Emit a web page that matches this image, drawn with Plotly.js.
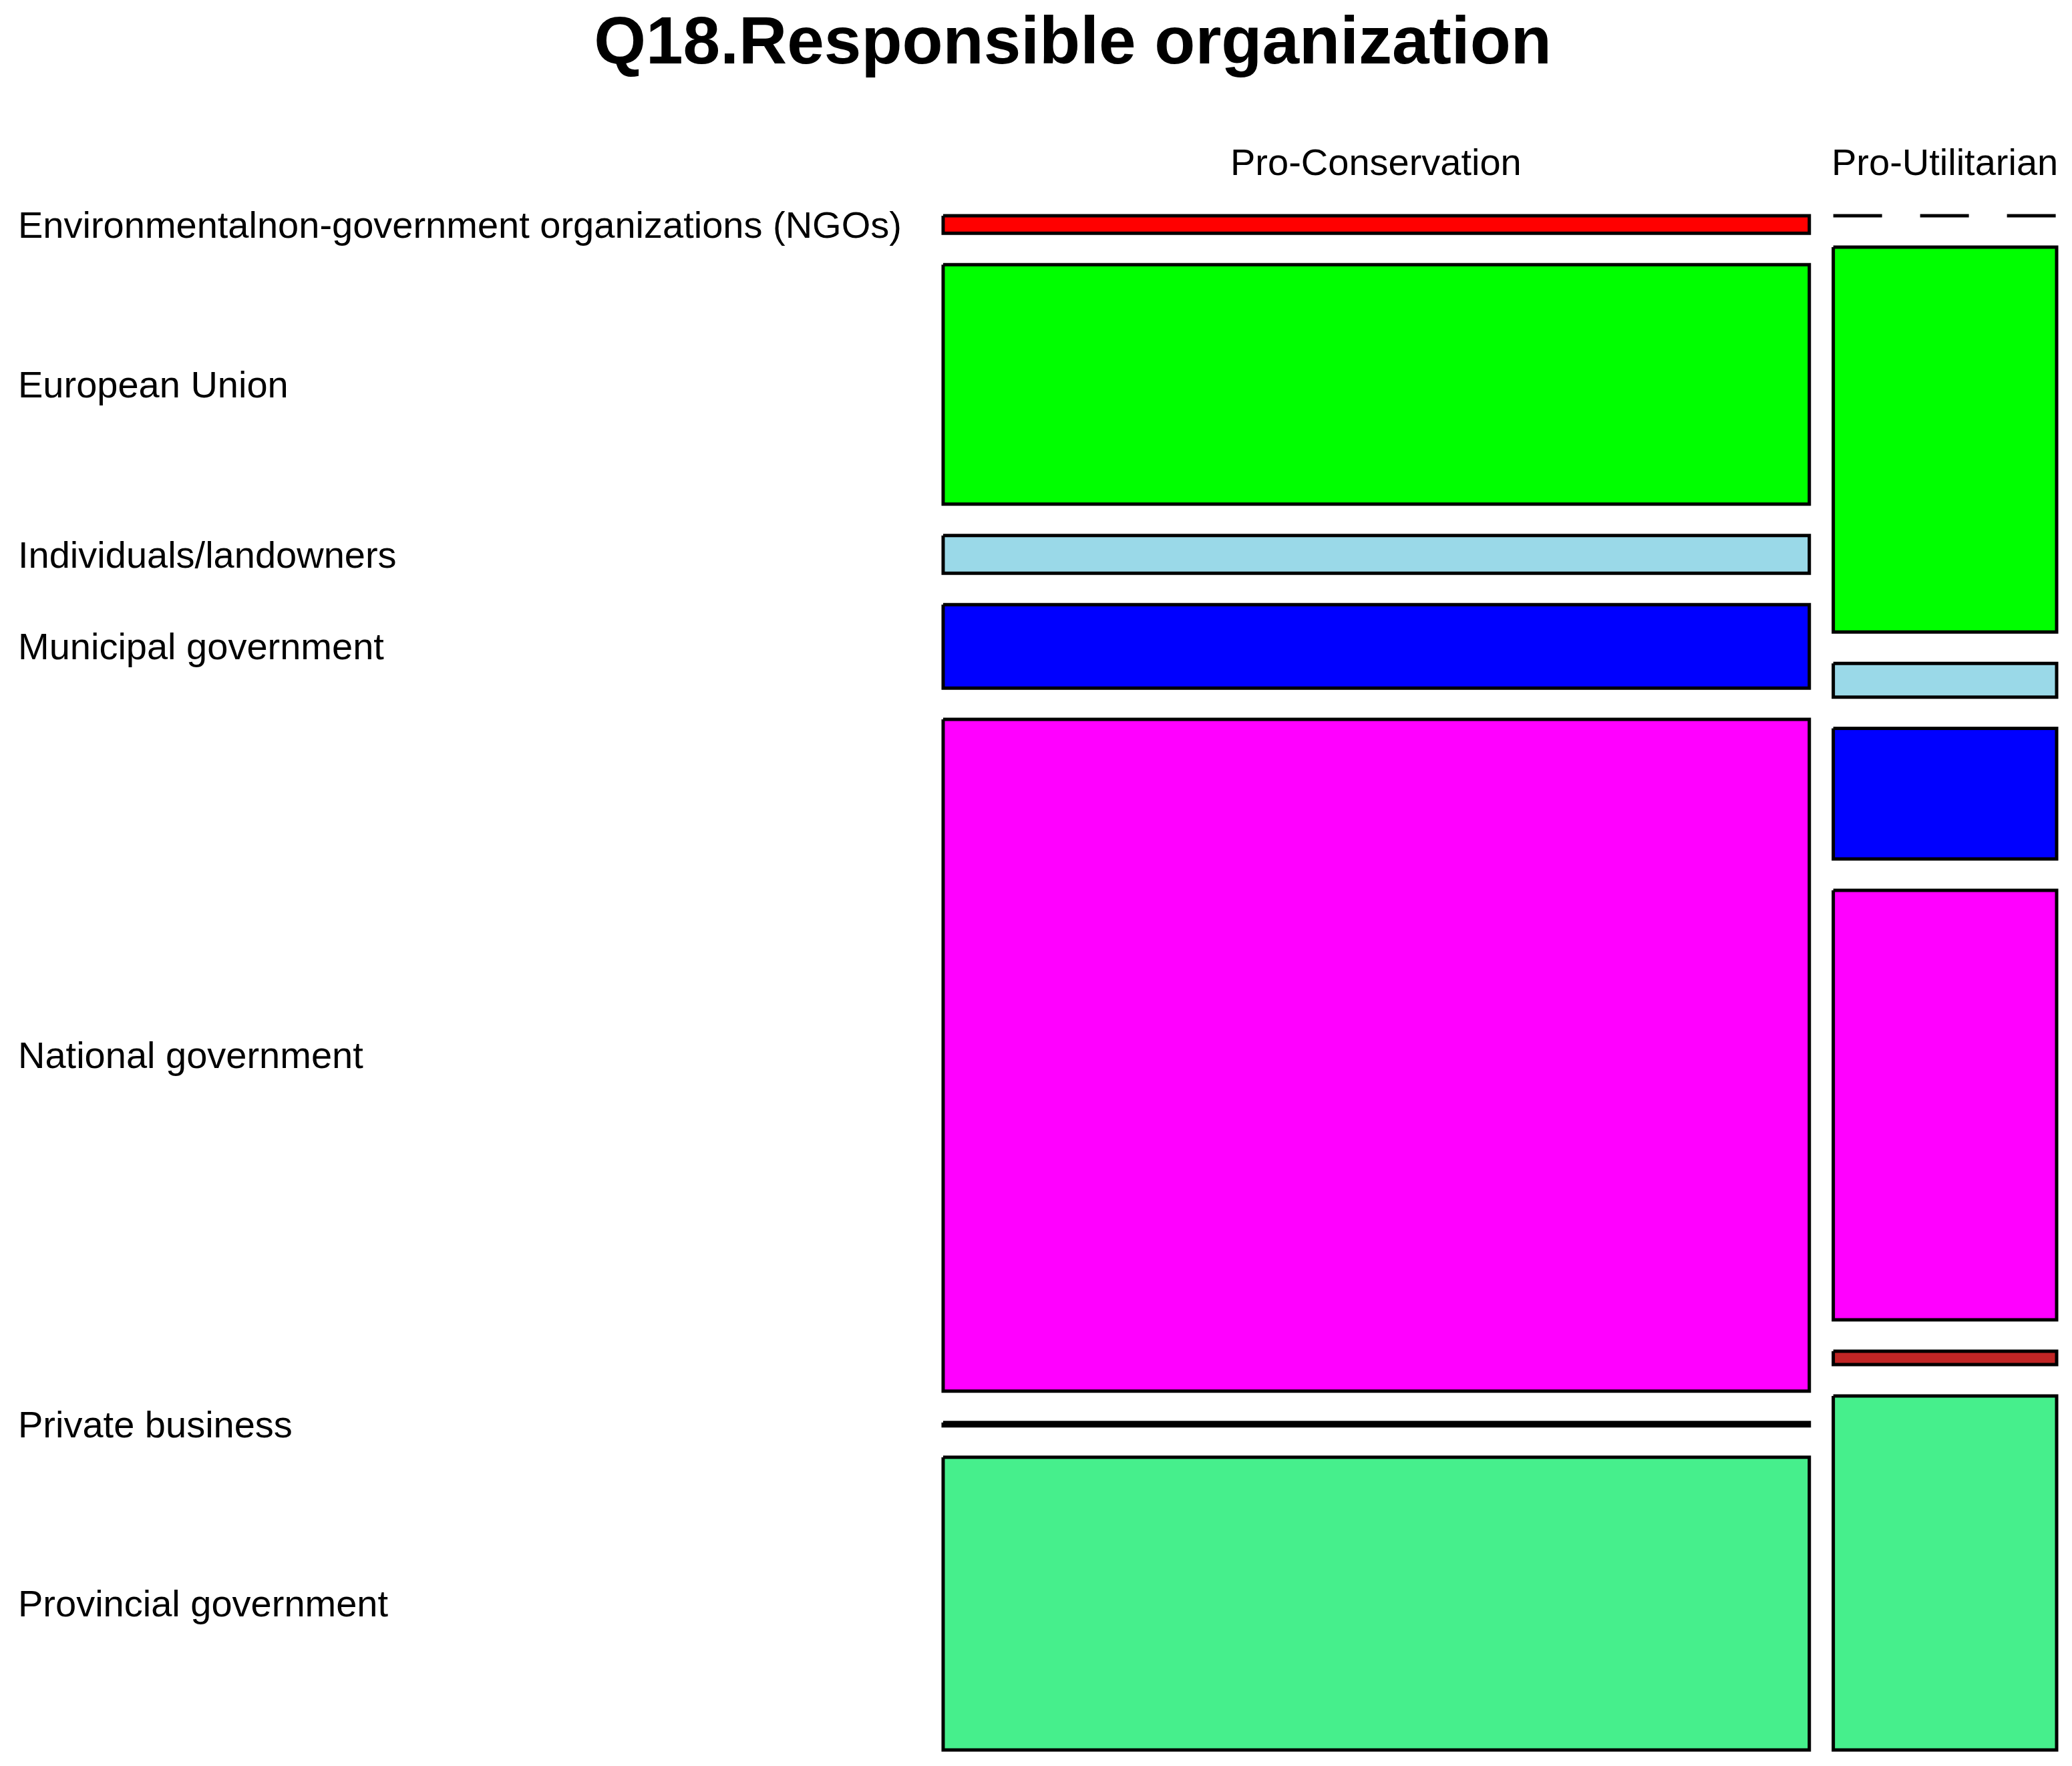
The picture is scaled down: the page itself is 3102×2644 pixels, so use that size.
<!DOCTYPE html>
<html>
<head>
<meta charset="utf-8">
<script src="https://cdn.plot.ly/plotly-3.0.1.min.js"></script>
<style>
  body { margin: 0; background: #fff; }
  #plot { width: 3102px; height: 2644px; }
</style>
</head>
<body>
<div id="plot"></div>
<script>
// mosaic data: column shares and % of each group per organization
var organizations = ['Environmentalnon-government organizations (NGOs)', 'European Union',
    'Individuals/landowners', 'Municipal government', 'National government',
    'Private business', 'Provincial government'];
var groups = ['Pro-Conservation', 'Pro-Utilitarian'];
var groupShare = [79.5, 20.5];
var proConservation = [1.3, 17.8, 2.8, 6.2, 49.9, 0.25, 21.75];
var proUtilitarian = [0, 28.6, 2.5, 9.7, 31.9, 1.0, 26.3];
var cellColors = ['#ff0000', '#00ff00', '#9ad9e8', '#0000ff', '#ff00ff', '#c02525', '#46ef8c'];

var columns = [proConservation, proUtilitarian];
var font = 'Liberation Sans, Arial, sans-serif';

// spacing between tiles, in data units
var colGap = 2.2;
var rowGap = 2.33;
var xTotal = 100 + colGap * (groups.length - 1);
var yTotal = 100 + rowGap * (organizations.length - 1);

// page geometry
var W = 3102, H = 2644;
var margin = {l: 1399.5, r: 10.5, t: 310.5, b: 11.5};
var pad = 12;
var plotW = W - margin.l - margin.r;
var plotH = H - margin.t - margin.b;
var pxX = (plotW - 2 * pad) / xTotal;
var pxY = (plotH - 2 * pad) / yTotal;

// column positions
var colStart = [];
var acc = 0;
groups.forEach(function (g, j) {
    colStart.push(acc);
    acc += groupShare[j] + colGap;
});

var traces = [];
var zeroLines = [];
var labelY = [];

// one filled trace per organization, one rectangle per group (gaps split them)
organizations.forEach(function (org, i) {
    var xs = [], ys = [];
    columns.forEach(function (vals, j) {
        var y0 = i * rowGap;
        for (var k = 0; k < i; k++) y0 += vals[k];
        var y1 = y0 + vals[i];
        var x0 = colStart[j], x1 = x0 + groupShare[j];
        if (j === 0) labelY.push((y0 + y1) / 2);
        if (vals[i] === 0) {
            zeroLines.push({x: [x0, x1], y: [y0, y0]});
            return;
        }
        if (xs.length) { xs.push(null); ys.push(null); }
        xs.push(x0, x1, x1, x0, x0);
        ys.push(y0, y0, y1, y1, y0);
    });
    traces.push({
        type: 'scatter',
        mode: 'lines',
        name: org,
        x: xs,
        y: ys,
        fill: 'toself',
        fillcolor: cellColors[i],
        line: {color: '#000', width: 5},
        hoverinfo: 'name'
    });
});

zeroLines.forEach(function (z) {
    traces.push({
        type: 'scatter',
        mode: 'lines',
        x: z.x,
        y: z.y,
        line: {color: '#000', width: 5, dash: '73px,57px'},
        hoverinfo: 'skip'
    });
});

var annotations = [];
organizations.forEach(function (org, i) {
    annotations.push({
        text: org,
        xref: 'paper', x: (24 - margin.l) / plotW, xanchor: 'left',
        yref: 'y', y: labelY[i], yanchor: 'middle',
        showarrow: false,
        font: {family: font, size: 56, color: '#000'}
    });
});
groups.forEach(function (g, j) {
    annotations.push({
        text: g,
        xref: 'x', x: colStart[j] + groupShare[j] / 2, xanchor: 'center',
        yref: 'paper', y: 1 + (margin.t - 242) / plotH, yanchor: 'middle',
        showarrow: false,
        font: {family: font, size: 56, color: '#000'}
    });
});

var layout = {
    width: W,
    height: H,
    autosize: false,
    margin: margin,
    paper_bgcolor: '#fff',
    plot_bgcolor: '#fff',
    showlegend: false,
    title: {
        text: '<b>Q18.Responsible organization</b>',
        font: {family: font, size: 100, color: '#000'},
        xref: 'container', x: 1606 / W, xanchor: 'center',
        yref: 'container', y: 1 - 60 / H, yanchor: 'middle'
    },
    xaxis: {
        range: [-pad / pxX, xTotal + pad / pxX],
        visible: false, fixedrange: true
    },
    yaxis: {
        range: [yTotal + pad / pxY, -pad / pxY],
        visible: false, fixedrange: true
    },
    annotations: annotations
};

Plotly.newPlot('plot', traces, layout, {displayModeBar: false, staticPlot: true});
</script>
</body>
</html>
